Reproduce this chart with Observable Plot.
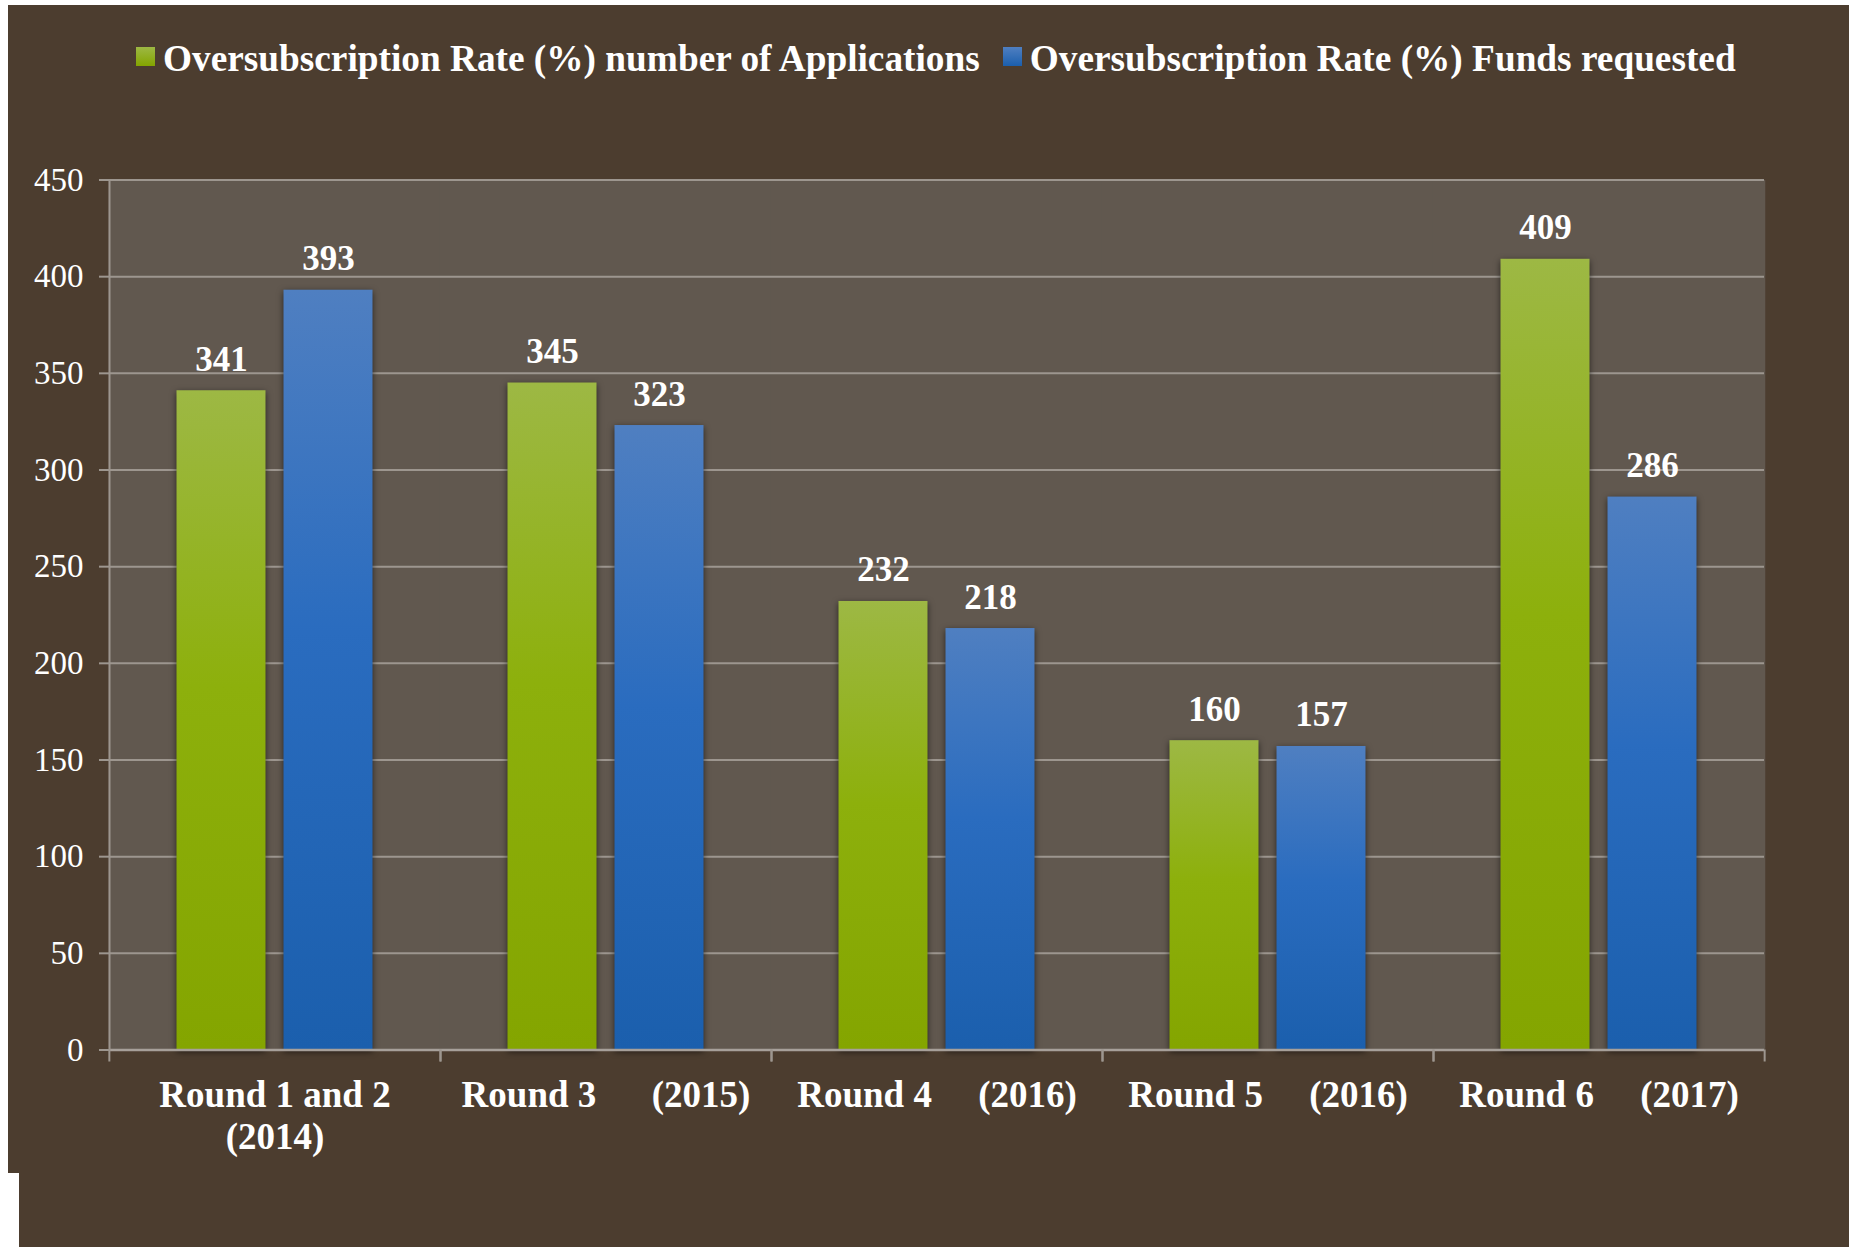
<!DOCTYPE html>
<html>
<head>
<meta charset="utf-8">
<script src="https://cdn.jsdelivr.net/npm/d3@7"></script>
<script src="https://cdn.jsdelivr.net/npm/@observablehq/plot@0.6"></script>
<style>
  html, body { margin: 0; padding: 0; background: #ffffff; width: 1849px; height: 1247px; overflow: hidden; }
  #panelA { position: absolute; left: 8px; top: 5px; width: 1841px; height: 1168px; background: #4c3d2f; }
  #panelB { position: absolute; left: 19px; top: 1173px; width: 1830px; height: 74px; background: #4c3d2f; }
  #legend { position: absolute; left: 136px; top: 40px; display: flex; align-items: flex-start;
            font-family: "Liberation Serif", "Times New Roman", serif; font-weight: bold; font-size: 37.3px;
            line-height: 37px; color: #ffffff; white-space: nowrap; }
  #legend .sw { width: 19px; height: 19px; margin-top: 7px; margin-right: 8px; flex: none; }
  #legend .item { display: flex; align-items: flex-start; margin-right: 23px; }
  #chart { position: absolute; left: 0; top: 110px; }
  #chart svg text { white-space: pre; }
</style>
</head>
<body>
<div id="panelA"></div>
<div id="panelB"></div>
<svg width="0" height="0" style="position:absolute;left:0;top:0">
  <defs>
    <linearGradient id="gGreen" x1="0" y1="0" x2="0" y2="1">
      <stop offset="0" stop-color="#9db844"/>
      <stop offset="0.45" stop-color="#8db00c"/>
      <stop offset="1" stop-color="#84a500"/>
    </linearGradient>
    <linearGradient id="gBlue" x1="0" y1="0" x2="0" y2="1">
      <stop offset="0" stop-color="#4f7fc1"/>
      <stop offset="0.45" stop-color="#2a6cbf"/>
      <stop offset="1" stop-color="#1b5fad"/>
    </linearGradient>
  </defs>
</svg>
<div id="legend"></div>
<div id="chart"></div>
<script>
// ---- data ----
const rounds = ["Round 1 and 2 (2014)", "Round 3 (2015)", "Round 4 (2016)", "Round 5 (2016)", "Round 6 (2017)"];
const roundLabels = ["Round 1 and 2\n(2014)", "Round 3      (2015)", "Round 4     (2016)", "Round 5     (2016)", "Round 6     (2017)"];
const seriesNames = ["Oversubscription Rate (%) number of Applications", "Oversubscription Rate (%) Funds requested"];
const appsRate = [341, 345, 232, 160, 409];
const fundsRate = [393, 323, 218, 157, 286];
const yTicks = [0, 50, 100, 150, 200, 250, 300, 350, 400, 450];

// ---- styles ----
const seriesFill = ["url(#gGreen)", "url(#gBlue)"];
const swatchCss = ["linear-gradient(#9db844, #84a500)", "linear-gradient(#4f7fc1, #1b5fad)"];
const plotBg = "#61584f";
const gridColor = "#9d968f";

// legend
const legend = document.getElementById("legend");
seriesNames.forEach((name, i) => {
  const item = document.createElement("div");
  item.className = "item";
  const sw = document.createElement("div");
  sw.className = "sw";
  sw.style.background = swatchCss[i];
  const t = document.createElement("span");
  t.textContent = name;
  item.appendChild(sw);
  item.appendChild(t);
  legend.appendChild(item);
});

const W = 1849, H = 1137;
const mL = 108.5, mR = 84, mT = 69.5, mB = 197.5;
const step = (W - mL - mR) / rounds.length;

const data = rounds.flatMap((r, i) => [
  {round: r, series: seriesNames[0], value: appsRate[i]},
  {round: r, series: seriesNames[1], value: fundsRate[i]}
]);

const plot = Plot.plot({
  width: W, height: H,
  marginLeft: mL, marginRight: mR, marginTop: mT, marginBottom: mB,
  style: {background: "transparent", fontFamily: "'Liberation Serif','Times New Roman',serif", color: "#ffffff", overflow: "visible"},
  fx: {domain: rounds, padding: 0, label: null},
  x: {domain: seriesNames, paddingInner: 0.1667, paddingOuter: 0.617, axis: null},
  y: {domain: [0, 450], label: null},
  marks: [
    Plot.frame({fill: plotBg, stroke: null, insetLeft: -0.75, insetRight: -0.75}),
    Plot.gridY(yTicks, {stroke: gridColor, strokeOpacity: 1, strokeWidth: 2}),
    Plot.barY(data.filter(d => d.series === seriesNames[0]), {fx: "round", x: "series", y: "value", fill: seriesFill[0]}),
    Plot.barY(data.filter(d => d.series === seriesNames[1]), {fx: "round", x: "series", y: "value", fill: seriesFill[1]}),
    Plot.ruleY([0], {stroke: "#a7a09a", strokeWidth: 2.5}),
    Plot.frame({anchor: "left", facetAnchor: "left", stroke: gridColor, strokeWidth: 2}),
    Plot.axisY(yTicks, {tickSize: 10, tickPadding: 16, fontSize: 33, fill: "#ffffff", stroke: gridColor, strokeWidth: 2, label: null}),
    Plot.axisFx({anchor: "bottom", tickSize: 0, tickPadding: 27, fontSize: 37, fontWeight: "bold", fill: "#ffffff", lineHeight: 1.135,
                 tickFormat: r => roundLabels[rounds.indexOf(r)], label: null}),
    Plot.axisFx({anchor: "bottom", fill: "none", tickSize: 12, stroke: gridColor, strokeWidth: 2, dx: -step / 2, label: null}),
    Plot.axisFx([rounds[rounds.length - 1]], {anchor: "bottom", fill: "none", tickSize: 12, stroke: gridColor, strokeWidth: 2, dx: step / 2, label: null}),
    Plot.text(data, {fx: "round", x: "series", y: "value", text: d => String(d.value), dy: -20, lineAnchor: "bottom",
                     fontSize: 35, fontWeight: "bold", fill: "#ffffff"})
  ]
});

plot.querySelectorAll('g[fill^="url(#g"]').forEach(g => {
  g.style.filter = "drop-shadow(0px 2px 3px rgba(0,0,0,0.6))";
});

document.getElementById("chart").appendChild(plot);
</script>
</body>
</html>
